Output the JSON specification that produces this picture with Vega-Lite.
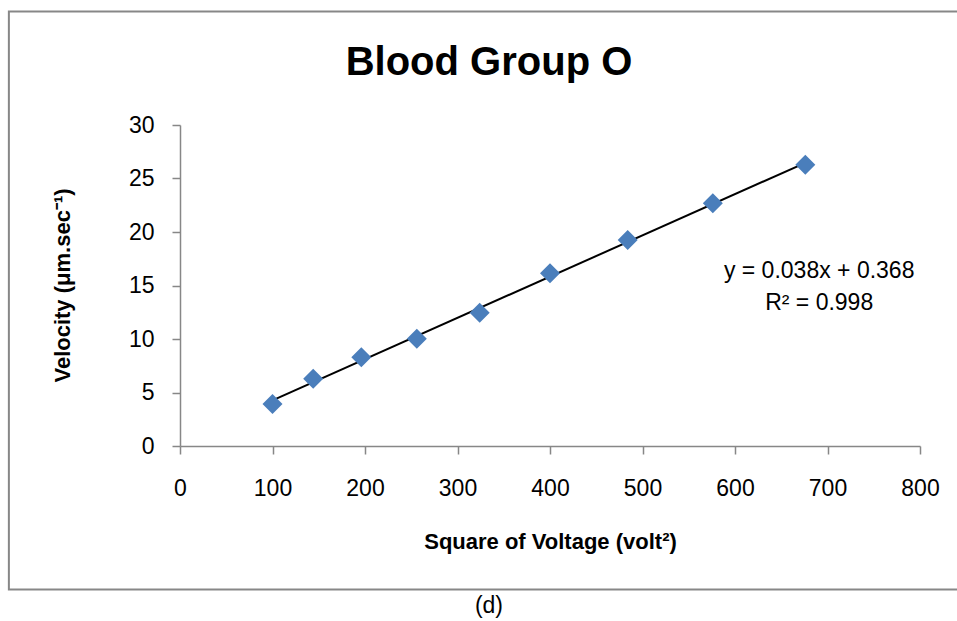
{
  "$schema": "https://vega.github.io/schema/vega-lite/v6.json",
  "width": 740,
  "height": 321,
  "autosize": {"type": "none"},
  "padding": {"left": 180, "top": 125, "right": 37, "bottom": 175},
  "background": "white",
  "title": {
    "text": "Blood Group O",
    "font": "Liberation Sans",
    "fontSize": 40,
    "fontWeight": "bold",
    "color": "black",
    "anchor": "middle",
    "dx": -61,
    "offset": -72
  },
  "config": {
    "view": {"stroke": null},
    "font": "Liberation Sans",
    "axis": {
      "domainColor": "#878787",
      "domainWidth": 1.5,
      "tickColor": "#878787",
      "tickWidth": 1.5,
      "tickSize": 8,
      "grid": false,
      "labelFlush": false,
      "labelFont": "Liberation Sans",
      "labelFontSize": 23,
      "labelColor": "black",
      "titleFont": "Liberation Sans",
      "titleFontSize": 22,
      "titleFontWeight": "bold",
      "titleColor": "black"
    },
    "axisX": {
      "labelPadding": 23,
      "titleY": 95,
      "titleBaseline": "middle"
    },
    "axisY": {
      "labelPadding": 18,
      "titleX": -118,
      "titleY": 160,
      "titleAngle": 270,
      "titleAlign": "center",
      "titleBaseline": "middle"
    }
  },
  "datasets": {
    "obs": [
      {"v2": 100, "vel": 3.93},
      {"v2": 144, "vel": 6.29},
      {"v2": 196, "vel": 8.29},
      {"v2": 256, "vel": 10.03},
      {"v2": 324, "vel": 12.46},
      {"v2": 400, "vel": 16.14},
      {"v2": 484, "vel": 19.25},
      {"v2": 576, "vel": 22.68},
      {"v2": 676, "vel": 26.29}
    ]
  },
  "layer": [
    {
      "data": {"values": [{}]},
      "mark": {"type": "rect", "fillOpacity": 0, "stroke": "#878787", "strokeWidth": 2, "clip": false},
      "encoding": {
        "x": {"datum": -185, "type": "quantitative", "scale": {"domain": [0, 800], "nice": false}, "title": "Square of Voltage (volt²)", "axis": {"values": [0, 100, 200, 300, 400, 500, 600, 700, 800], "labelFlush": false}},
        "x2": {"datum": 1000},
        "y": {"datum": 40.6, "type": "quantitative", "scale": {"domain": [0, 30], "nice": false}, "title": "Velocity (μm.sec⁻¹)", "axis": {"values": [0, 5, 10, 15, 20, 25, 30]}},
        "y2": {"datum": -13.4}
      }
    },
    {
      "data": {"name": "obs"},
      "transform": [{"regression": "vel", "on": "v2"}],
      "mark": {"type": "line", "color": "black", "strokeWidth": 2},
      "encoding": {
        "x": {"field": "v2", "type": "quantitative", "scale": {"domain": [0, 800], "nice": false}, "title": "Square of Voltage (volt²)", "axis": {"values": [0, 100, 200, 300, 400, 500, 600, 700, 800], "labelFlush": false}},
        "y": {"field": "vel", "type": "quantitative", "scale": {"domain": [0, 30], "nice": false}, "title": "Velocity (μm.sec⁻¹)", "axis": {"values": [0, 5, 10, 15, 20, 25, 30]}}
      }
    },
    {
      "data": {"name": "obs"},
      "mark": {"type": "point", "shape": "diamond", "filled": true, "size": 400, "color": "#4a7ebb", "opacity": 1},
      "encoding": {
        "x": {"field": "v2", "type": "quantitative", "scale": {"domain": [0, 800], "nice": false}, "title": "Square of Voltage (volt²)", "axis": {"values": [0, 100, 200, 300, 400, 500, 600, 700, 800], "labelFlush": false}},
        "y": {"field": "vel", "type": "quantitative", "scale": {"domain": [0, 30], "nice": false}, "title": "Velocity (μm.sec⁻¹)", "axis": {"values": [0, 5, 10, 15, 20, 25, 30]}}
      }
    },
    {
      "data": {"values": [{}]},
      "mark": {
        "type": "text",
        "text": ["y = 0.038x + 0.368", "R² = 0.998"],
        "fontSize": 23,
        "lineHeight": 32,
        "align": "center",
        "baseline": "middle",
        "color": "black"
      },
      "encoding": {
        "x": {"datum": 691, "type": "quantitative", "scale": {"domain": [0, 800], "nice": false}, "title": "Square of Voltage (volt²)", "axis": {"values": [0, 100, 200, 300, 400, 500, 600, 700, 800], "labelFlush": false}},
        "y": {"datum": 16.35, "type": "quantitative", "scale": {"domain": [0, 30], "nice": false}, "title": "Velocity (μm.sec⁻¹)", "axis": {"values": [0, 5, 10, 15, 20, 25, 30]}}
      }
    },
    {
      "data": {"values": [{}]},
      "mark": {"type": "text", "text": "(d)", "fontSize": 23, "align": "center", "baseline": "middle", "color": "black", "clip": false},
      "encoding": {
        "x": {"datum": 334, "type": "quantitative", "scale": {"domain": [0, 800], "nice": false}, "title": "Square of Voltage (volt²)", "axis": {"values": [0, 100, 200, 300, 400, 500, 600, 700, 800], "labelFlush": false}},
        "y": {"datum": -14.95, "type": "quantitative", "scale": {"domain": [0, 30], "nice": false}, "title": "Velocity (μm.sec⁻¹)", "axis": {"values": [0, 5, 10, 15, 20, 25, 30]}}
      }
    }
  ]
}
